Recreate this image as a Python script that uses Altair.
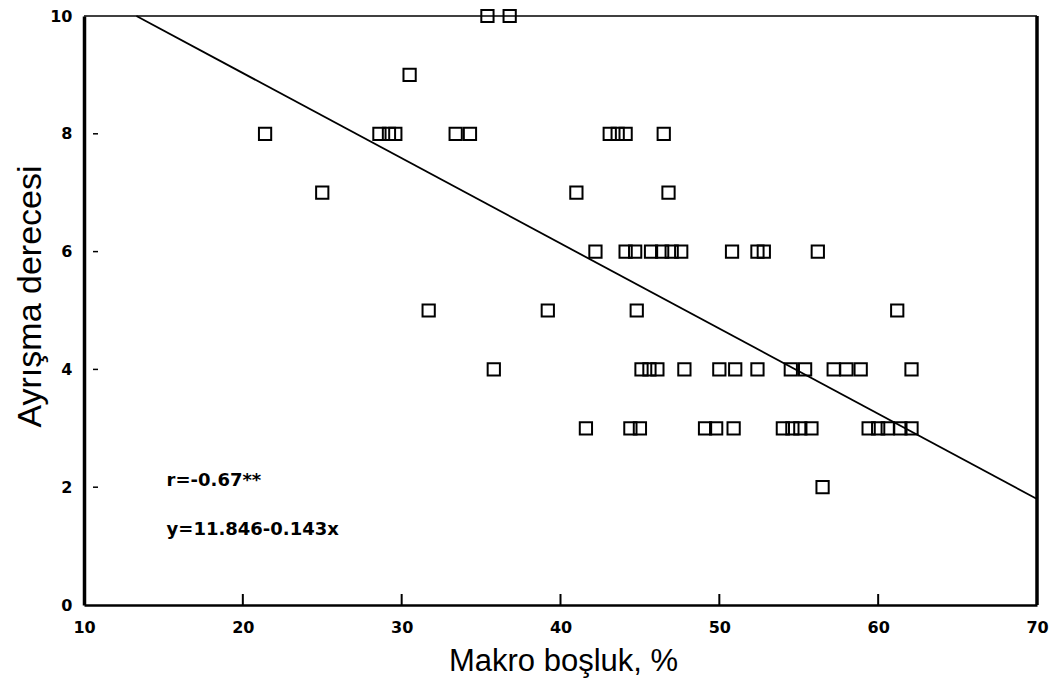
import altair as alt
import pandas as pd

# Scatter points (Makro boşluk %, Ayrışma derecesi)
pts_x = [35.4, 36.8,
         30.5,
         21.4, 28.6, 29.2, 29.6, 33.4, 34.3, 43.1, 43.6, 44.1, 46.5,
         25.0, 41.0, 46.8,
         42.2, 44.1, 44.7, 45.7, 46.4, 47.0, 47.6, 50.8, 52.4, 52.8, 56.2,
         31.7, 39.2, 44.8, 61.2,
         35.8, 45.1, 45.6, 46.1, 47.8, 50.0, 51.0, 52.4, 54.5, 55.4, 57.2, 58.0, 58.9, 62.1,
         41.6, 44.4, 45.0, 49.1, 49.8, 50.9, 54.0, 54.6, 55.1, 55.8, 59.4, 60.0, 60.6, 61.4, 62.1,
         56.5]
pts_y = [10, 10,
         9,
         8, 8, 8, 8, 8, 8, 8, 8, 8, 8,
         7, 7, 7,
         6, 6, 6, 6, 6, 6, 6, 6, 6, 6, 6,
         5, 5, 5, 5,
         4, 4, 4, 4, 4, 4, 4, 4, 4, 4, 4, 4, 4, 4,
         3, 3, 3, 3, 3, 3, 3, 3, 3, 3, 3, 3, 3, 3, 3,
         2]

# Regression line end points (y = 11.846 - 0.143x)
line_x = [13.3, 70.0]
line_y = [10.0, 1.8]

# Annotation texts
ann_text = ["r=-0.67**", "y=11.846-0.143x"]
ann_x = [15.2, 15.2]
ann_y = [2.1, 1.27]

x_ticks = [10, 20, 30, 40, 50, 60, 70]
y_ticks = [0, 2, 4, 6, 8, 10]
inner_x_ticks = [20, 30, 40, 50, 60]
inner_y_ticks = [2, 4, 6, 8]

W, H = 953, 589
FONT = "Liberation Sans"
BFONT = "DejaVu Sans"

pts = pd.DataFrame({"x": pts_x, "y": pts_y})
line = pd.DataFrame({"x": line_x, "y": line_y})
ann = pd.DataFrame({"x": ann_x, "y": ann_y, "t": ann_text})
ixt = pd.DataFrame({"x": inner_x_ticks})
iyt = pd.DataFrame({"y": inner_y_ticks})

xscale = alt.Scale(domain=[10, 70], nice=False, zero=False)
yscale = alt.Scale(domain=[0, 10], nice=False, zero=False)

xaxis = alt.Axis(values=x_ticks, title="Makro boşluk, %", grid=False,
                 ticks=False, domainColor="black", domainWidth=2.5,
                 labelFont=BFONT, labelFontSize=16, labelFontWeight="bold",
                 labelColor="black", labelPadding=14, labelFlush=False,
                 titleFont=FONT, titleFontSize=31, titleFontWeight="normal",
                 titleColor="black", titleX=479, titleY=56,
                 titleBaseline="middle", titleAlign="center")
yaxis = alt.Axis(values=y_ticks, title="Ayrışma derecesi", grid=False,
                 ticks=False, domainColor="black", domainWidth=3.5,
                 labelFont=BFONT, labelFontSize=16, labelFontWeight="bold",
                 labelColor="black", labelPadding=12, labelFlush=False,
                 titleFont=FONT, titleFontSize=34, titleFontWeight="normal",
                 titleColor="black", titleX=-54, titleY=280,
                 titleAngle=-90, titleBaseline="middle", titleAlign="center")

X = lambda f: alt.X(f, scale=xscale, axis=xaxis)
Y = lambda f: alt.Y(f, scale=yscale, axis=yaxis)

points = alt.Chart(pts).mark_point(
    shape="square", size=150, filled=False, color="black", strokeWidth=2, opacity=1
).encode(x=X("x:Q"), y=Y("y:Q"))

reg = alt.Chart(line).mark_line(color="black", strokeWidth=1.8).encode(
    x=X("x:Q"), y=Y("y:Q"))

texts = alt.Chart(ann).mark_text(
    align="left", baseline="middle", font=BFONT, fontSize=18, fontWeight="bold", color="black"
).encode(x=X("x:Q"), y=Y("y:Q"), text="t:N")

xtick_marks = alt.Chart(ixt).mark_rule(color="black", strokeWidth=2).encode(
    x=X("x:Q"), y=alt.value(H), y2=alt.value(H - 11))

ytick_marks = alt.Chart(iyt).mark_rule(color="black", strokeWidth=1.5).encode(
    y=Y("y:Q"), x=alt.value(9), x2=alt.value(14))

top_border = alt.Chart(pd.DataFrame({"a": [0]})).mark_rule(color="black", strokeWidth=1.5).encode(
    x=alt.value(0), x2=alt.value(W), y=alt.value(0)
)
right_border = alt.Chart(pd.DataFrame({"a": [0]})).mark_rule(color="black", strokeWidth=3.5).encode(
    x=alt.value(W), y=alt.value(0), y2=alt.value(H)
)

chart = alt.layer(
    points, reg, texts, xtick_marks, ytick_marks, top_border, right_border
).properties(
    width=W, height=H,
    autosize=alt.AutoSizeParams(type="none"),
    padding={"left": 84, "top": 16, "right": 20, "bottom": 76},
    background="white",
).configure_view(stroke=None)

chart.save("out.html", embed_options={"renderer": "svg", "actions": False})
